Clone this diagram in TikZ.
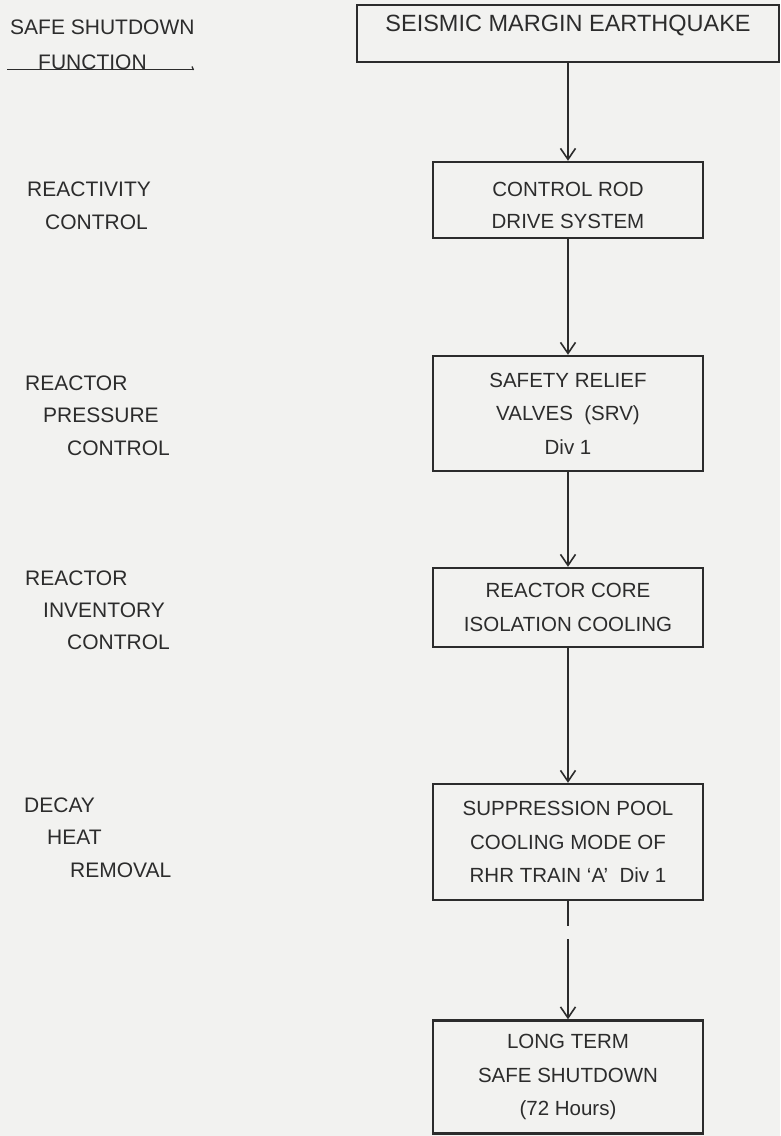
\documentclass[tikz,border=0pt]{standalone}
\usepackage{fontspec}
\setmainfont{Liberation Sans}
\usetikzlibrary{arrows.meta}
\definecolor{ink}{RGB}{44,44,44}
\definecolor{paper}{RGB}{242,242,240}
\begin{document}
\begin{tikzpicture}[x=1pt,y=-1pt,
  stepbox/.style={draw=ink, line width=2.4pt, align=center, inner sep=0pt, text=ink,
    font=\fontsize{20.5}{33.5}\selectfont, minimum width=270pt},
  lab/.style={anchor=west, inner sep=0pt, text height=14.5pt, text depth=0pt, text=ink,
    font=\fontsize{21}{25}\selectfont},
  flow/.style={draw=ink, line width=1.6pt,
    -{Straight Barb[length=11pt,width=15pt,line width=1.6pt]}}]
\fill[paper] (0,0) rectangle (780,1136);
\useasboundingbox (0,0) rectangle (780,1136);

% boxes
\node[stepbox, minimum width=422pt, minimum height=57pt] (sme) at (568,33.5)
  {\raisebox{20pt}{\fontsize{23.5}{28}\selectfont SEISMIC MARGIN EARTHQUAKE}};
\node[stepbox, minimum height=76pt] (crd) at (568,200)
  {\raisebox{-11pt}[20pt][20pt]{\parbox{260pt}{\centering\fontsize{20.5}{32}\selectfont CONTROL ROD\\DRIVE SYSTEM}}};
\node[stepbox, minimum height=115pt] (srv) at (568,413.5)
  {SAFETY RELIEF\\VALVES\ \ (SRV)\\Div 1};
\node[stepbox, minimum height=79pt] (rci) at (568,607.5)
  {REACTOR CORE\\ISOLATION COOLING};
\node[stepbox, minimum height=116pt] (rhr) at (568,842)
  {SUPPRESSION POOL\\COOLING MODE OF\\RHR TRAIN `A'\ \ Div 1};
\node[stepbox, minimum height=113pt] (lts) at (568,1077)
  {LONG TERM\\SAFE SHUTDOWN\\(72 Hours)};

% connectors
\draw[flow] (sme.south) -- (crd.north);
\draw[flow] (crd.south) -- (srv.north);
\draw[flow] (srv.south) -- (rci.north);
\draw[flow] (rci.south) -- (rhr.north);
\draw[flow, dash pattern=on 25pt off 13pt on 400pt] (rhr.south) -- (lts.north);

% left column labels
\node[lab] (h1) at (10,27) {SAFE SHUTDOWN};
\node[lab] (h2) at (38,62) {FUNCTION};
\draw[ink, line width=1.3pt] (7,69.5) -- (193,69.5);
\draw[ink, line width=1.3pt] (192,66.5) -- (193.5,70);

\node[lab] (a1) at (27,189) {REACTIVITY};
\node[lab] (a2) at (45,222) {CONTROL};

\node[lab] (b1) at (25,383) {REACTOR};
\node[lab] (b2) at (43,415) {PRESSURE};
\node[lab] (b3) at (67,448) {CONTROL};

\node[lab] (c1) at (25,578) {REACTOR};
\node[lab] (c2) at (43,610) {INVENTORY};
\node[lab] (c3) at (67,642) {CONTROL};

\node[lab] (d1) at (24,805) {DECAY};
\node[lab] (d2) at (47,837) {HEAT};
\node[lab] (d3) at (70,870) {REMOVAL};
\end{tikzpicture}
\end{document}
